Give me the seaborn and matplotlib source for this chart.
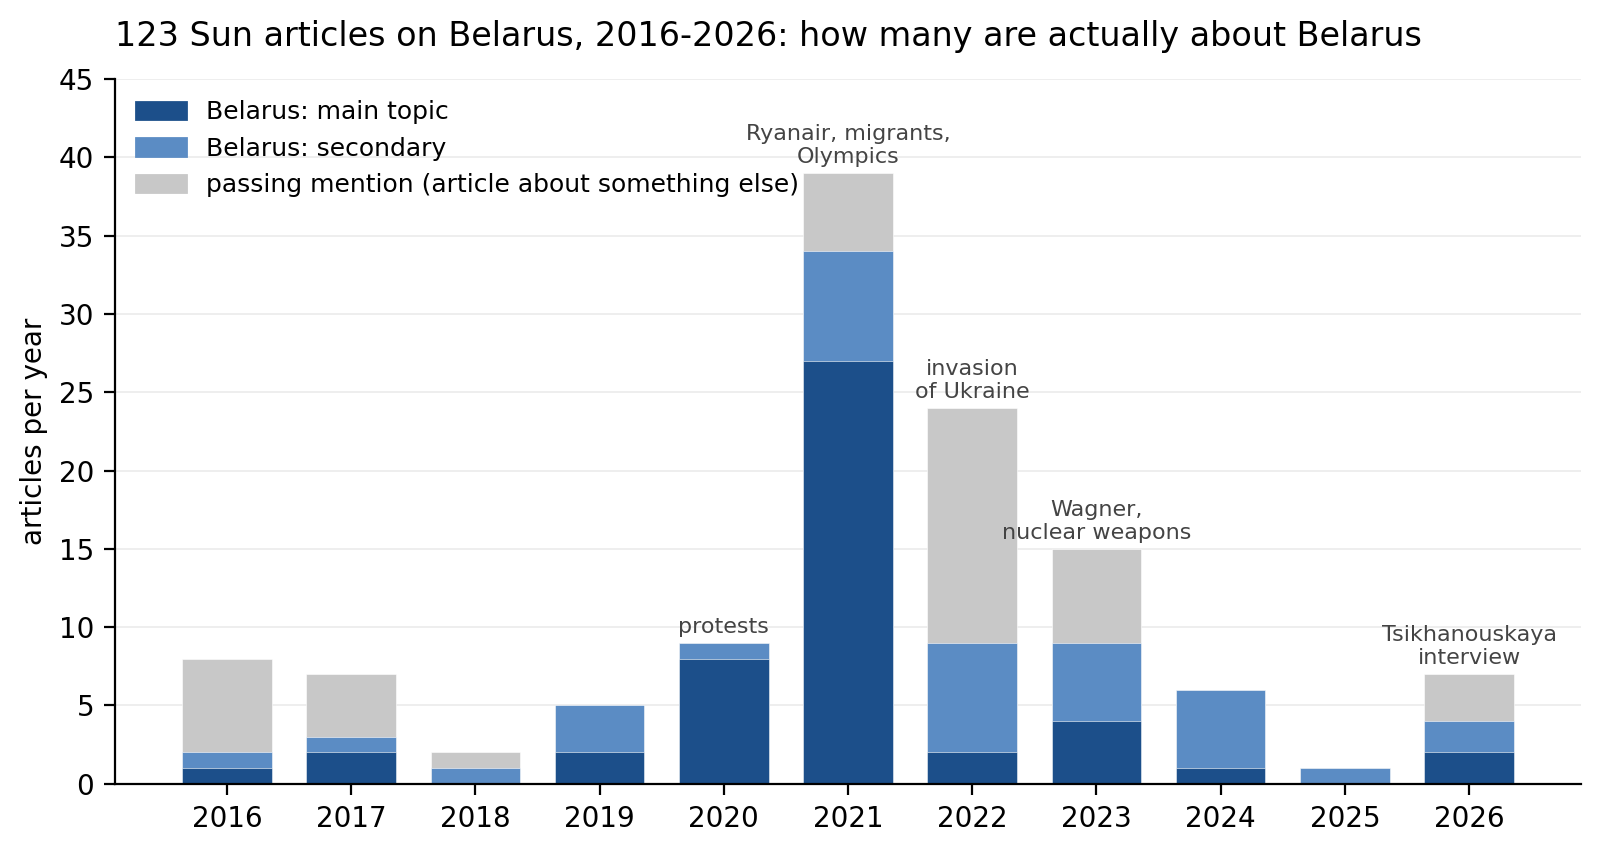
import pandas as pd
import seaborn as sns
import matplotlib.pyplot as plt
from matplotlib.patches import Patch

sns.set_style("white", rc={'text.color': 'black', 'axes.labelcolor': 'black',
                           'xtick.color': 'black', 'ytick.color': 'black',
                           'axes.edgecolor': 'black'})

# data
years = ['2016', '2017', '2018', '2019', '2020', '2021', '2022', '2023', '2024', '2025', '2026']
main_topic = [1, 2, 0, 2, 8, 27, 2, 4, 1, 0, 2]
secondary = [1, 1, 1, 3, 1, 7, 7, 5, 5, 1, 2]
passing = [6, 4, 1, 0, 0, 5, 15, 6, 0, 0, 3]

notes = {'2020': 'protests',
         '2021': 'Ryanair, migrants,\nOlympics',
         '2022': 'invasion\nof Ukraine',
         '2023': 'Wagner,\nnuclear weapons',
         '2026': 'Tsikhanouskaya\ninterview'}

c_main = '#1c4f8a'
c_sec = '#5b8cc4'
c_pass = '#c8c8c8'

df = pd.DataFrame({'year': years, 'main': main_topic, 'sec': secondary, 'pass': passing})
df['main_sec'] = df['main'] + df['sec']
df['total'] = df['main_sec'] + df['pass']

fig, ax = plt.subplots(figsize=(8, 4.255), dpi=200)

# stacked look: draw cumulative heights from tallest to shortest
for col, colr in [('total', c_pass), ('main_sec', c_sec), ('main', c_main)]:
    sns.barplot(data=df, x='year', y=col, color=colr, saturation=1, width=0.72,
                edgecolor='white', linewidth=0.2, ax=ax, zorder=2)

for yr, txt in notes.items():
    i = years.index(yr)
    ax.text(i, df['total'][i] + 0.4, txt, ha='center', va='bottom', fontsize=8,
            color='#444444', linespacing=1.15)

ax.set_ylim(0, 45)
ax.set_yticks(range(0, 46, 5))
ax.set_xlim(-0.9, 10.9)
ax.yaxis.grid(True, color='#ebebeb', lw=0.6, zorder=0)
ax.set_axisbelow(True)
ax.tick_params(axis='both', labelsize=10, length=4, width=0.8, direction='out', left=True, bottom=True)
ax.set_xlabel('')
ax.set_ylabel('articles per year', fontsize=10)
sns.despine(ax=ax)
ax.spines['left'].set_linewidth(0.8)
ax.spines['bottom'].set_linewidth(0.8)

ax.set_title('123 Sun articles on Belarus, 2016-2026: how many are actually about Belarus',
             loc='left', fontsize=12, pad=12)

handles = [Patch(color=c_main, label='Belarus: main topic'),
           Patch(color=c_sec, label='Belarus: secondary'),
           Patch(color=c_pass, label='passing mention (article about something else)')]
ax.legend(handles=handles, loc='upper left', frameon=False, fontsize=9,
          handlelength=2.0, handletextpad=0.8, borderaxespad=0.45)

fig.subplots_adjust(left=0.072, right=0.988, top=0.907, bottom=0.079)
fig.savefig('out.png', dpi=200)
